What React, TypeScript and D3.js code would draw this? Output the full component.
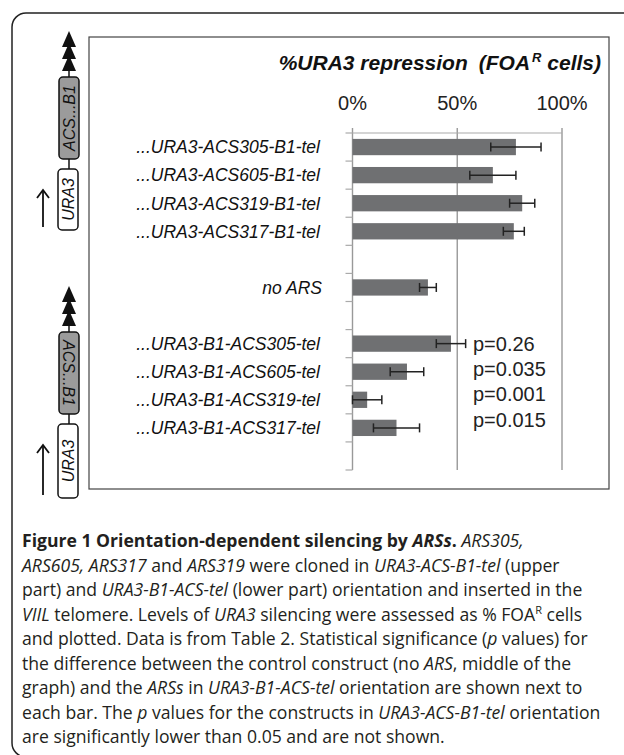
import React from 'react';
import * as d3 from 'd3';

// rows of the chart, top to bottom ("" = empty spacer row)
const rowLabels = [
  '...URA3-ACS305-B1-tel',
  '...URA3-ACS605-B1-tel',
  '...URA3-ACS319-B1-tel',
  '...URA3-ACS317-B1-tel',
  '',
  'no ARS',
  ' ',
  '...URA3-B1-ACS305-tel',
  '...URA3-B1-ACS605-tel',
  '...URA3-B1-ACS319-tel',
  '...URA3-B1-ACS317-tel',
  '  ',
];
const barLabels = [
  '...URA3-ACS305-B1-tel',
  '...URA3-ACS605-B1-tel',
  '...URA3-ACS319-B1-tel',
  '...URA3-ACS317-B1-tel',
  'no ARS',
  '...URA3-B1-ACS305-tel',
  '...URA3-B1-ACS605-tel',
  '...URA3-B1-ACS319-tel',
  '...URA3-B1-ACS317-tel',
];
const repression = [78, 67, 81, 77, 36, 47, 26, 7, 21];
const errors = [12, 11, 6, 5, 4, 7, 8, 7, 11];
const pLabels = ['p=0.26', 'p=0.035', 'p=0.001', 'p=0.015'];
const xTicks = [0, 50, 100];

type Seg = [string, string];
const caption: Seg[][] = [
  [['Figure 1 Orientation-dependent silencing by ', 'b'], ['ARSs', 'bi'], ['.', 'b'], [' ARS305,', 'i']],
  [['ARS605, ARS317', 'i'], [' and ', 'n'], ['ARS319', 'i'], [' were cloned in ', 'n'], ['URA3-ACS-B1-tel', 'i'], [' (upper', 'n']],
  [['part) and ', 'n'], ['URA3-B1-ACS-tel', 'i'], [' (lower part) orientation and inserted in the', 'n']],
  [['VIIL', 'i'], [' telomere. Levels of ', 'n'], ['URA3', 'i'], [' silencing were assessed as % FOA', 'n'], ['R', 'sup'], [' cells', 'n']],
  [['and plotted. Data is from Table 2. Statistical significance (', 'n'], ['p', 'i'], [' values) for', 'n']],
  [['the difference between the control construct (no ', 'n'], ['ARS', 'i'], [', middle of the', 'n']],
  [['graph) and the ', 'n'], ['ARSs', 'i'], [' in ', 'n'], ['URA3-B1-ACS-tel', 'i'], [' orientation are shown next to', 'n']],
  [['each bar. The ', 'n'], ['p', 'i'], [' values for the constructs in ', 'n'], ['URA3-ACS-B1-tel', 'i'], [' orientation', 'n']],
  [['are significantly lower than 0.05 and are not shown.', 'n']],
];

const W = 624;
const H = 755;
const chartFont = '"Liberation Sans", Arial, sans-serif';
const capFont = '"Open Sans", sans-serif';

const Construct: React.FC<{ top: number; flipped: boolean; ura3Bottom: number }> = ({ top, flipped, ura3Bottom }) => {
  const cx = 69;
  const grayTop = top + 46;
  const grayBottom = grayTop + 82;
  const uraTop = grayBottom + 10;
  const heads = [0, 12, 24];
  return (
    <g>
      <line x1={cx} x2={cx} y1={top + 30} y2={grayTop} stroke="#111" strokeWidth={1.5} />
      {heads.map((d) => (
        <path key={d} d={`M${cx},${top + d} L${cx + 7},${top + d + 16} L${cx - 7},${top + d + 16} Z`} fill="#111" />
      ))}
      <rect x={cx - 10} y={grayTop} width={20} height={grayBottom - grayTop} rx={4} fill="#9b9b9b" stroke="#111" strokeWidth={1.5} />
      <text
        transform={`translate(${cx},${(grayTop + grayBottom) / 2}) rotate(${flipped ? 90 : -90})`}
        textAnchor="middle"
        dy="0.36em"
        fontFamily={chartFont}
        fontStyle="italic"
        fontSize={16}
        fill="#111"
      >
        ACS...B1
      </text>
      <line x1={cx} x2={cx} y1={grayBottom} y2={uraTop} stroke="#111" strokeWidth={1.5} />
      <rect x={cx - 11} y={uraTop} width={20} height={ura3Bottom - uraTop} rx={4} fill="#fff" stroke="#111" strokeWidth={1.5} />
      <text
        transform={`translate(${cx - 1},${(uraTop + ura3Bottom) / 2}) rotate(-90)`}
        textAnchor="middle"
        dy="0.36em"
        fontFamily={chartFont}
        fontStyle="italic"
        fontSize={16}
        fill="#111"
      >
        URA3
      </text>
      <line x1={43} x2={43} y1={uraTop + 21} y2={ura3Bottom - 3} stroke="#111" strokeWidth={1.8} />
      <path d={`M37,${uraTop + 29} L43,${uraTop + 21} L49,${uraTop + 29}`} fill="none" stroke="#111" strokeWidth={1.8} />
    </g>
  );
};

const App: React.FC = () => {
  const x = d3.scaleLinear().domain([0, 100]).range([352.5, 562]);
  const y = d3.scaleBand<string>().domain(rowLabels).range([133, 470]).paddingInner(0.42).paddingOuter(0.21);
  const step = y.step();
  const rowTop = (l: string) => (y(l) as number) - y.paddingInner() * step / 2;
  const rowMid = (l: string) => (y(l) as number) + y.bandwidth() / 2;
  const lowerStart = rowMid(barLabels[5]);

  const styleOf = (s: string) => ({
    fontWeight: s === 'b' || s === 'bi' ? 700 : 400,
    fontStyle: s === 'i' || s === 'bi' ? 'italic' : 'normal',
  });

  return (
    <svg width={W} height={H} style={{ position: 'absolute', left: 0, top: 0 }}>
      <rect x={0} y={0} width={W} height={H} fill="#fff" />
      <rect x={12} y={13} width={660} height={744} rx={14} fill="none" stroke="#222" strokeWidth={1.5} />
      <rect x={89} y={37} width={520} height={452} fill="none" stroke="#444" strokeWidth={1.2} />

      <text x={601} y={70} textAnchor="end" fontFamily={chartFont} fontWeight={700} fontStyle="italic" fontSize={21} fill="#111">
        %URA3 repression
        <tspan dx={11}>(FOA</tspan>
        <tspan fontSize={13} dy={-8} dx={2}>R</tspan>
        <tspan dy={8}> cells)</tspan>
      </text>

      {xTicks.map((t) => (
        <g key={t}>
          <text x={x(t)} y={110} textAnchor="middle" fontFamily={chartFont} fontSize={20} fill="#222">
            {t}%
          </text>
          <line x1={x(t)} x2={x(t)} y1={128} y2={470} stroke="#999" strokeWidth={1.4} />
        </g>
      ))}
      <line x1={x(0)} x2={x(100)} y1={133} y2={133} stroke="#aaa" strokeWidth={1.2} />
      {rowLabels.map((l) => (
        <line key={'t' + l} x1={x(0) - 7} x2={x(0)} y1={rowTop(l)} y2={rowTop(l)} stroke="#aaa" strokeWidth={1.2} />
      ))}
      <line x1={x(0) - 7} x2={x(0)} y1={470} y2={470} stroke="#aaa" strokeWidth={1.2} />

      {barLabels.map((l, i) => {
        const yc = rowMid(l);
        const lo = Math.max(0, repression[i] - errors[i]);
        const hi = repression[i] + errors[i];
        return (
          <g key={l}>
            <text x={l === 'no ARS' ? 322 : 320} y={yc} dy="0.36em" textAnchor="end" fontFamily={chartFont} fontStyle="italic" fontSize={17.5} fill="#111">
              {l}
            </text>
            <rect x={x(0)} y={y(l)} width={x(repression[i]) - x(0)} height={y.bandwidth()} fill="#6f7072" />
            <line x1={x(lo)} x2={x(hi)} y1={yc} y2={yc} stroke="#222" strokeWidth={1.5} />
            <line x1={x(lo)} x2={x(lo)} y1={yc - 4.5} y2={yc + 4.5} stroke="#222" strokeWidth={1.5} />
            <line x1={x(hi)} x2={x(hi)} y1={yc - 4.5} y2={yc + 4.5} stroke="#222" strokeWidth={1.5} />
          </g>
        );
      })}

      {pLabels.map((p, i) => (
        <text key={p} x={473} y={lowerStart + 7 + i * 25.3} fontFamily={chartFont} fontSize={20} fill="#222">
          {p}
        </text>
      ))}

      <Construct top={31} flipped={false} ura3Bottom={230} />
      <Construct top={286} flipped={true} ura3Bottom={498} />

      <g fontFamily={capFont} fontSize={17.6} fill="#231f20">
        {caption.map((line, li) => (
          <text key={li} x={22} y={547 + li * 24.5}>
            {line.map(([t, s], si) =>
              s === 'sup' ? (
                <tspan key={si} fontSize={11} dy={-7}>{t}</tspan>
              ) : (
                <tspan key={si} {...styleOf(s)} dy={si > 0 && line[si - 1][1] === 'sup' ? 7 : 0}>{t}</tspan>
              )
            )}
          </text>
        ))}
      </g>
    </svg>
  );
};

export default App;
